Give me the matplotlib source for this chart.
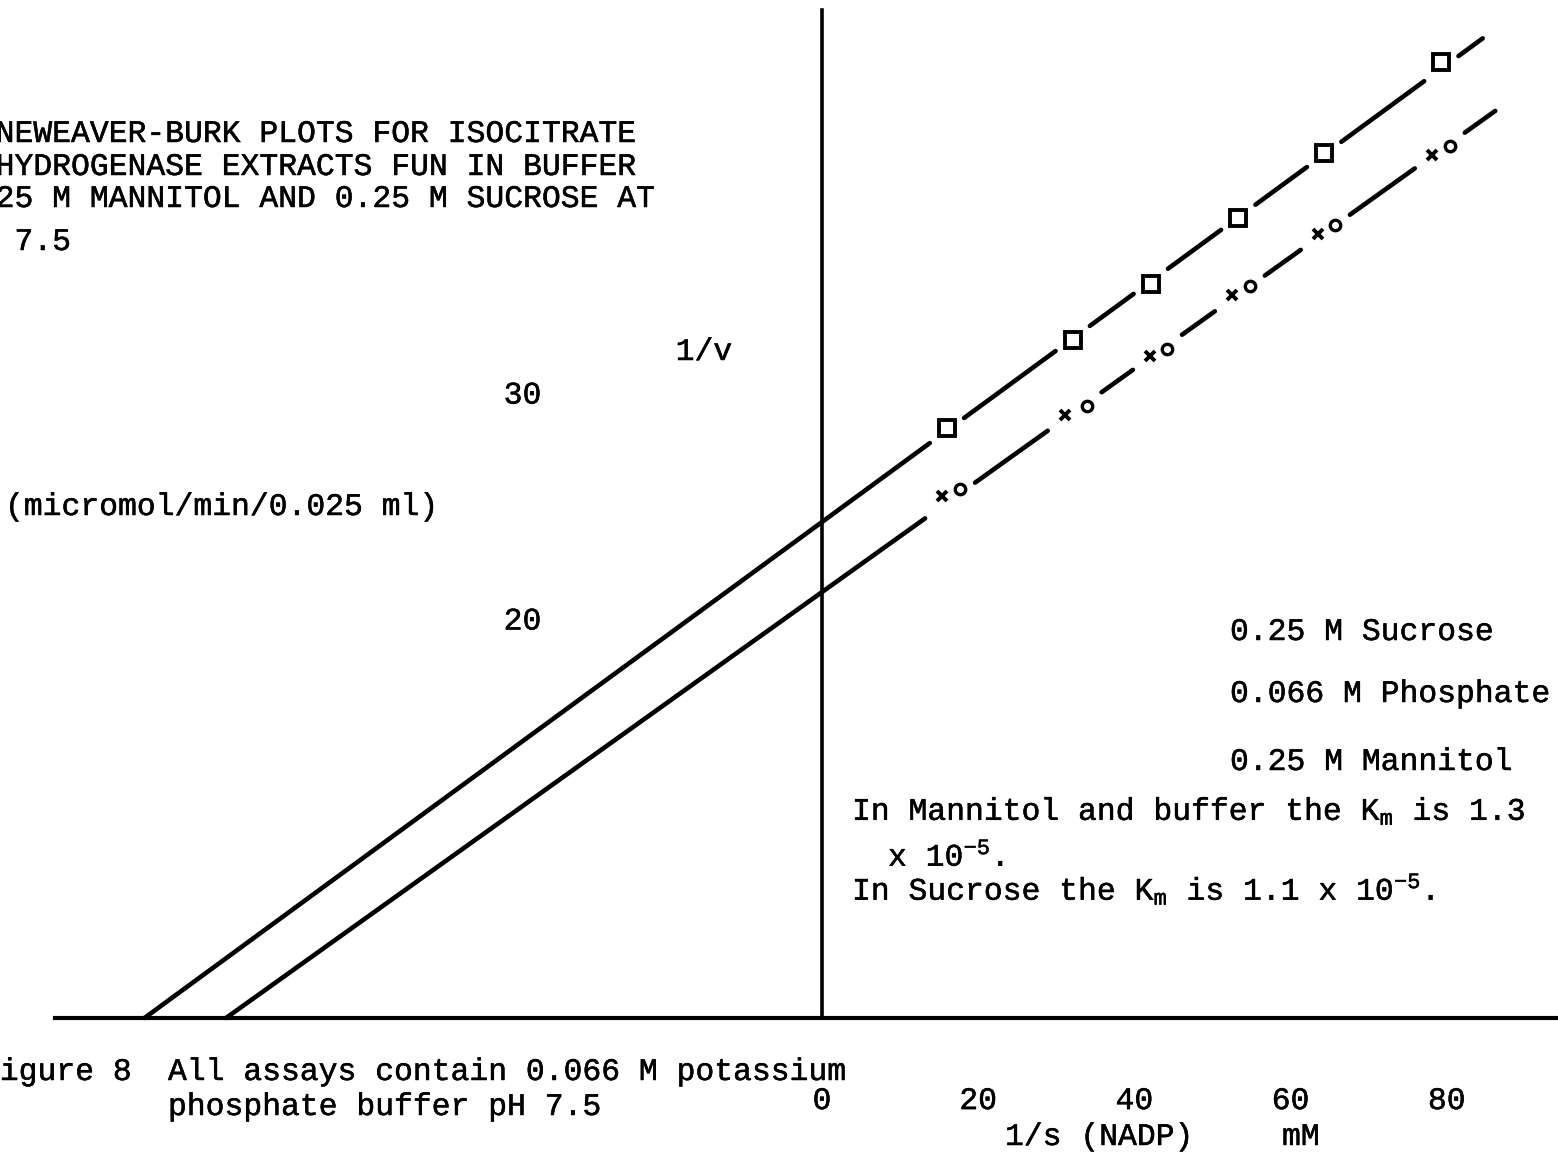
import matplotlib
matplotlib.use("Agg")
import matplotlib.pyplot as plt
import matplotlib.patheffects as pe

# ---------------- data ----------------
x_ticks = [0, 20, 40, 60, 80]
x_tick_labels = ["0", "20", "40", "60", "80"]
y_ticks = [20, 30]
y_tick_labels = ["20", "30"]

# 0.25 M Sucrose (squares, upper line)
sucrose_x = [16.0, 32.1, 42.1, 53.3, 64.3, 79.3]
sucrose_y = [28.4, 32.3, 34.8, 37.7, 40.6, 44.6]
# 0.25 M Mannitol (crosses, lower line)
mannitol_x = [15.4, 31.1, 42.0, 52.5, 63.5, 78.1]
mannitol_y = [25.4, 29.0, 31.6, 34.3, 37.0, 40.5]
# 0.066 M Phosphate (open circles, lower line)
phosphate_x = [17.7, 33.9, 44.2, 54.8, 65.7, 80.4]
phosphate_y = [25.7, 29.4, 31.9, 34.7, 37.4, 40.9]

# fitted lines: (intercept on 1/v axis, slope), right end of line
sucrose_fit = (24.25, 0.253)
sucrose_fit_end = 84.6
buffer_fit = (21.15, 0.247)
buffer_fit_end = 86.2

# ---------------- layout ----------------
W, H, DPI = 1558, 1164, 100
XLIM = (-105.25, 94.24)
YLIM = (-4.16, 47.35)
AXIS_Y = 2.3          # level of the drawn abscissa
FONT = "Liberation Mono"
FS = 22.6

plt.rcParams["mathtext.fontset"] = "custom"
plt.rcParams["mathtext.rm"] = FONT
plt.rcParams["mathtext.it"] = FONT
plt.rcParams["mathtext.bf"] = FONT
plt.rcParams["font.family"] = [FONT, "DejaVu Sans"]

fig = plt.figure(figsize=(W / DPI, H / DPI), dpi=DPI)
fig.patch.set_facecolor("white")
ax = fig.add_axes([0, 0, 1, 1])
ax.set_xlim(*XLIM)
ax.set_ylim(*YLIM)
ax.set_facecolor("white")

ink = [pe.withStroke(linewidth=0.35, foreground="black")]

# axes as spines
for s in ("top", "right"):
    ax.spines[s].set_visible(False)
ax.spines["bottom"].set_position(("data", AXIS_Y))
ax.spines["bottom"].set_bounds(-98.2, XLIM[1])
ax.spines["bottom"].set_linewidth(3.0)
ax.spines["left"].set_position(("data", 0))
ax.spines["left"].set_bounds(AXIS_Y, 46.9)
ax.spines["left"].set_linewidth(2.6)

ax.set_xticks(x_ticks)
ax.set_xticklabels(x_tick_labels)
ax.set_yticks(y_ticks)
ax.set_yticklabels(y_tick_labels)
ax.tick_params(axis="x", length=0, pad=49, labelsize=FS)
ax.tick_params(axis="y", length=0, pad=202, labelsize=FS)
for lab in ax.get_xticklabels() + ax.get_yticklabels():
    lab.set_fontfamily(FONT)
    lab.set_path_effects(ink)


def segments(x_start, x_end, gaps):
    segs, cur = [], x_start
    for g0, g1 in sorted(gaps):
        if g0 > cur:
            segs.append((cur, g0))
        cur = max(cur, g1)
    if x_end > cur:
        segs.append((cur, x_end))
    return segs


def draw_fit(fit, x_end, gaps):
    a, b = fit
    x_start = (AXIS_Y - a) / b
    for x0, x1 in segments(x_start, x_end, gaps):
        ax.plot([x0, x1], [a + b * x0, a + b * x1], color="black",
                lw=3.3, solid_capstyle="round")


draw_fit(sucrose_fit, sucrose_fit_end, [(x - 2.2, x + 2.2) for x in sucrose_x])
draw_fit(buffer_fit, buffer_fit_end,
         [(m - 2.2, p + 1.9) for m, p in zip(mannitol_x, phosphate_x)])

ax.plot(sucrose_x, sucrose_y, ls="none", marker="s", ms=11, mfc="white",
        mec="black", mew=2.8)
ax.plot(mannitol_x, mannitol_y, ls="none", marker="x", ms=7.5, mec="black",
        mew=2.8)
ax.plot(phosphate_x, phosphate_y, ls="none", marker="o", ms=7.5, mfc="white",
        mec="black", mew=2.4)


def P(x, y):
    return x / W, 1 - y / H


def T(x, y, s, ha="left", va="baseline"):
    fig.text(*P(x, y), s, ha=ha, va=va, fontsize=FS, family=FONT,
             color="black", path_effects=ink)


# title (cut at the left edge as in the scan)
T(-42, 142, "LINEWEAVER-BURK PLOTS FOR ISOCITRATE")
T(-42, 175, "DEHYDROGENASE EXTRACTS FUN IN BUFFER")
T(-42, 207, "0.25 M MANNITOL AND 0.25 M SUCROSE AT")
T(-42, 250, "pH 7.5")

# axis labels
T(704, 360, "1/v", ha="center")
T(5, 515, "(micromol/min/0.025 ml)")
T(1005, 1145, "1/s (NADP)")
T(1282, 1145, "mM")

# legend labels
T(1230, 640, "0.25 M Sucrose")
T(1230, 702, "0.066 M Phosphate")
T(1230, 770, "0.25 M Mannitol")

# Km notes
T(852, 820, r"In Mannitol and buffer the K$_{\mathrm{m}}$ is 1.3")
T(888, 866, r"x 10$^{\mathrm{-5}}$.")
T(852, 900, r"In Sucrose the K$_{\mathrm{m}}$ is 1.1 x 10$^{\mathrm{-5}}$.")

# caption
T(-19, 1080, "Figure 8")
T(168, 1080, "All assays contain 0.066 M potassium")
T(168, 1115, "phosphate buffer pH 7.5")

fig.savefig("out.png", dpi=DPI, facecolor="white")
